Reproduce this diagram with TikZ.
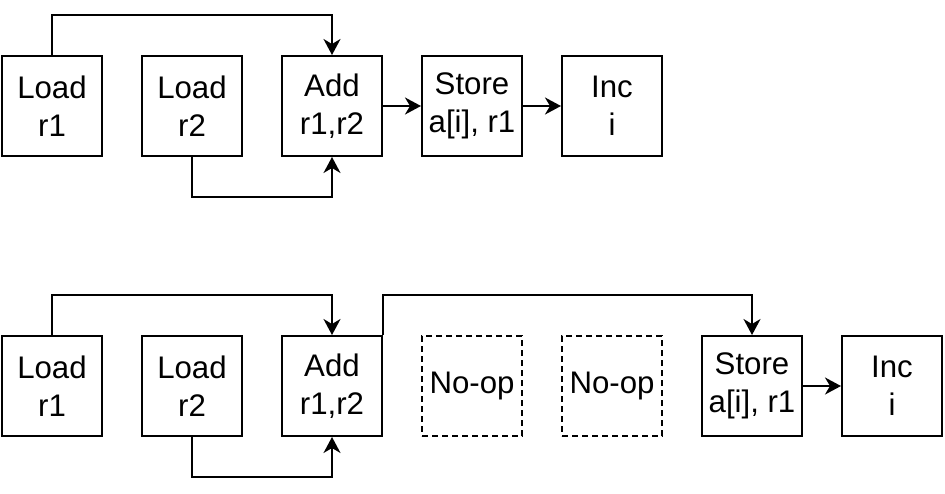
\documentclass[tikz,border=0pt]{standalone}
\usepackage{fontspec}
\setmainfont{Liberation Sans}
\usetikzlibrary{arrows.meta}

\begin{document}
\begin{tikzpicture}[x=0.5pt, y=-0.5pt]
    \tikzstyle{instr} = [
      draw=black,
      line width=1pt,
      anchor=center,
      align=center,
      minimum width=50pt,
      minimum height=50pt,
      inner sep=0pt,
      font=\fontsize{15.6}{18.8}\selectfont,
    ]
    \tikzstyle{noop} = [
      instr,
      dash pattern=on 3pt off 2pt,
    ]
    \tikzstyle{arrow} = [
      line width=1pt,
      -{Stealth[length=8pt, width=8.5pt, inset=2.5pt]},
      draw=black,
    ]

    \newcommand{\stagedistance}[0]{70pt}
    \newcommand{\loopheight}[0]{20pt}

    \useasboundingbox (0,0) rectangle (945,493);

    \coordinate (topAnchor) at (52,106);
    \coordinate (botAnchor) at (52,386);

    % first schedule
    {
      \node[instr] (loadTopI)  at (topAnchor) {Load\\r1};
      \node[instr] (loadTopII) at ([xshift=\stagedistance] loadTopI) {Load\\r2};
      \node[instr] (addTop)    at ([xshift=\stagedistance] loadTopII) {Add\\r1,r2};
      \node[instr] (storeTop)  at ([xshift=\stagedistance] addTop) {Store\\a[i], r1};
      \node[instr] (incTop)    at ([xshift=\stagedistance] storeTop) {Inc\\i};

      \draw[arrow] (loadTopI.north) -- ([yshift=\loopheight] loadTopI.north) -| (addTop.north);
      \draw[arrow] (loadTopII.south) -- ([yshift=-\loopheight] loadTopII.south) -| (addTop.south);
      \draw[arrow] (addTop) -- (storeTop);
      \draw[arrow] (storeTop) -- (incTop);
    }

    % second schedule, with stalls
    {
      \node[instr] (loadBotI)  at (botAnchor) {Load\\r1};
      \node[instr] (loadBotII) at ([xshift=\stagedistance] loadBotI) {Load\\r2};
      \node[instr] (addBot)    at ([xshift=\stagedistance] loadBotII) {Add\\r1,r2};
      \node[noop]  (noopI)     at ([xshift=\stagedistance] addBot) {No-op};
      \node[noop]  (noopII)    at ([xshift=\stagedistance] noopI) {No-op};
      \node[instr] (storeBot)  at ([xshift=\stagedistance] noopII) {Store\\a[i], r1};
      \node[instr] (incBot)    at ([xshift=\stagedistance] storeBot) {Inc\\i};

      \draw[arrow] (loadBotI.north) -- ([yshift=\loopheight] loadBotI.north) -| (addBot.north);
      \draw[arrow] (loadBotII.south) -- ([yshift=-\loopheight] loadBotII.south) -| (addBot.south);
      \draw[arrow] (addBot.north east) -- ([yshift=\loopheight] addBot.north east) -| (storeBot.north);
      \draw[arrow] (storeBot) -- (incBot);
    }
\end{tikzpicture}
\end{document}
